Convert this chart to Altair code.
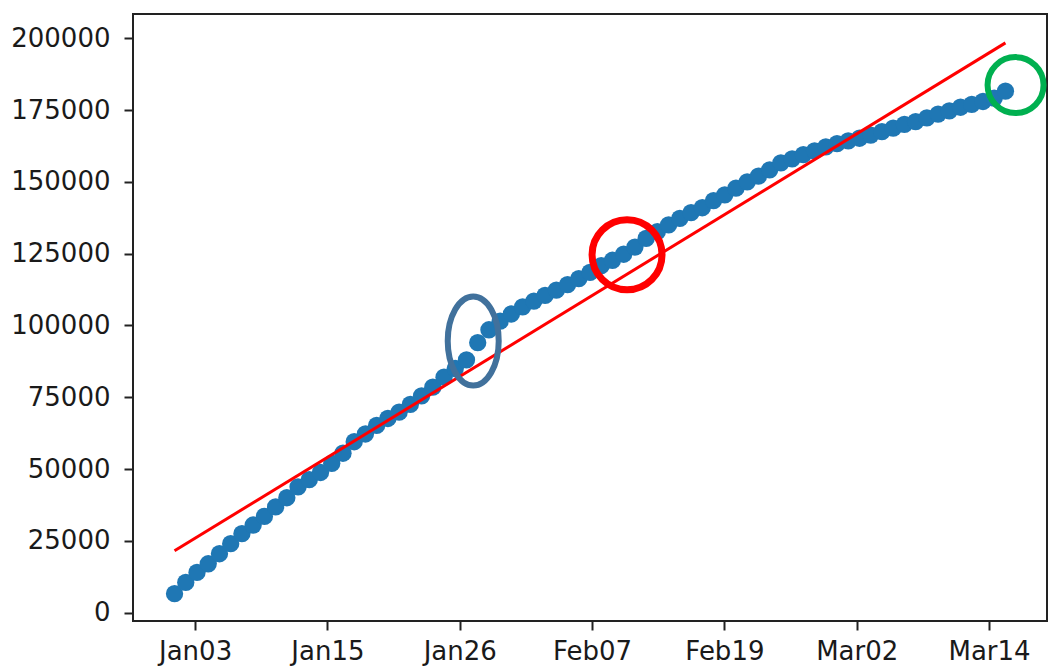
import altair as alt
import pandas as pd

# Cumulative total per day (day 0 = Jan 01)
cases = [
    6600, 10500, 14000, 17000, 20500, 24000, 27500, 30500, 33500, 36800,
    40000, 43800, 46300, 48800, 52000, 55500, 59500, 62200, 65200, 67600,
    69800, 72500, 75500, 78500, 82000, 85000, 88000, 94000, 98500, 101500,
    104000, 106500, 108500, 110500, 112300, 114200, 116300, 118500, 120800, 122700,
    124800, 127300, 130300, 132700, 135000, 137300, 139300, 141000, 143500, 145500,
    147800, 150000, 152000, 154200, 156600, 158000, 159500, 160800, 162200, 163300,
    164300, 165200, 166300, 167500, 168700, 170000, 171000, 172300, 173600, 174700,
    176000, 177000, 178000, 179200, 181600,
]
days = list(range(len(cases)))

# x axis: evenly spaced ticks on the day index, labelled with dates
tick_days = [1.83, 13.615, 25.40, 37.185, 48.97, 60.755, 72.54]
tick_labels = ["Jan03", "Jan15", "Jan26", "Feb07", "Feb19", "Mar02", "Mar14"]
y_ticks = [0, 25000, 50000, 75000, 100000, 125000, 150000, 175000, 200000]

# Highlight rings drawn over the series
ring_days = [26.6, 40.3, 74.9]
ring_values = [94600, 124600, 183700]
ring_colors = ["#41719c", "#ff0000", "#00b050"]
ring_shapes = [
    "M -0.573 0 A 0.573 1 0 1 1 0.573 0 A 0.573 1 0 1 1 -0.573 0 Z",
    "circle",
    "circle",
]
ring_sizes = [7921, 4900, 3136]
ring_widths = [6, 7, 6]

df = pd.DataFrame({"day": days, "cases": cases})
rings = pd.DataFrame({
    "day": ring_days, "cases": ring_values, "color": ring_colors,
    "shape": ring_shapes, "size": ring_sizes, "sw": ring_widths,
})

step = (tick_days[-1] - tick_days[0]) / (len(tick_days) - 1)
label_expr = f"{tick_labels}[round((datum.value - {tick_days[0]}) / {step})]"

x_enc = alt.X(
    "day:Q",
    scale=alt.Scale(domain=[-3.7, 77.7], nice=False, zero=False),
    axis=alt.Axis(values=tick_days, labelExpr=label_expr, title=None,
                  grid=False, labelPadding=8, labelFlush=False),
)
y_enc = alt.Y(
    "cases:Q",
    scale=alt.Scale(domain=[-2930, 208470], nice=False, zero=False),
    axis=alt.Axis(values=y_ticks, format="d", title=None, grid=False,
                  labelPadding=14),
)

points = alt.Chart(df).mark_circle(size=300, color="#1f77b4", opacity=1).encode(
    x=x_enc, y=y_enc
)

fit = alt.Chart(df).transform_regression("day", "cases").mark_line(
    color="#ff0000", strokeWidth=3
).encode(x="day:Q", y="cases:Q")

ring_layer = alt.Chart(rings).mark_point(filled=False, opacity=1, fill=None).encode(
    x="day:Q",
    y="cases:Q",
    shape=alt.Shape("shape:N", scale=None),
    size=alt.Size("size:Q", scale=None),
    stroke=alt.Stroke("color:N", scale=None),
    strokeWidth=alt.StrokeWidth("sw:Q", scale=None),
)

chart = alt.layer(points, fit, ring_layer).properties(
    width=914,
    height=607,
    autosize=alt.AutoSizeParams(type="none"),
    padding={"left": 133, "top": 14, "right": 2, "bottom": 47},
).configure_view(
    stroke="#222222", strokeWidth=2
).configure_axis(
    domain=False,
    ticks=True,
    tickSize=9,
    tickWidth=2,
    tickColor="#222222",
    labelFont="DejaVu Sans",
    labelFontSize=26,
    labelColor="#1a1a1a",
)

chart.save("out.html", embed_options={"renderer": "svg", "actions": False})
